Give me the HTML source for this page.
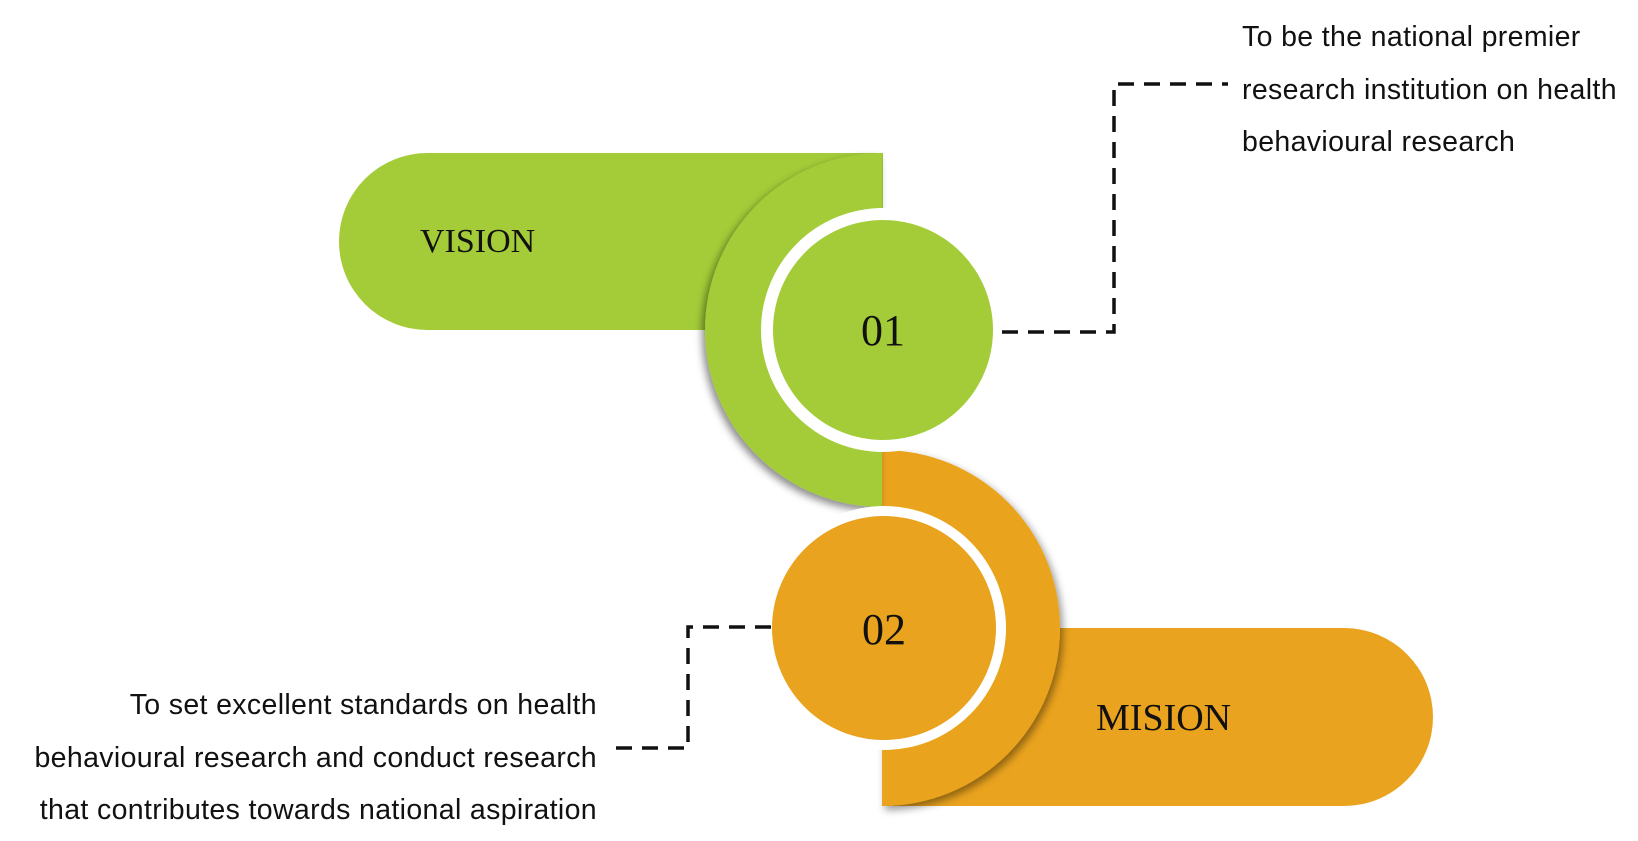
<!DOCTYPE html>
<html><head><meta charset="utf-8"><style>
html,body{margin:0;padding:0;background:#fff;}
svg{display:block;}
</style></head><body>
<svg width="1638" height="841" viewBox="0 0 1638 841" xmlns="http://www.w3.org/2000/svg">
<defs>
<filter id="sg" x="-30%" y="-30%" width="160%" height="160%"><feDropShadow dx="-3" dy="4" stdDeviation="4" flood-color="#000" flood-opacity="0.45"/></filter>
<filter id="so" x="-30%" y="-30%" width="160%" height="160%"><feDropShadow dx="3" dy="4" stdDeviation="4" flood-color="#000" flood-opacity="0.4"/></filter>
</defs>
<path d="M882 628 H1344 A89 89 0 0 1 1344 806 H882 Z" fill="#EAA31E"/>
<path d="M882 450 A178 178 0 0 1 882 806 Z" fill="#EAA31E" filter="url(#so)"/>
<path d="M427.5 153 H883 V330 H427.5 A88.5 88.5 0 0 1 427.5 153 Z" fill="#A3CC38"/>
<path d="M882 153 A177 177 0 0 0 882 507 Z" fill="#A3CC38" filter="url(#sg)"/>
<circle cx="883" cy="330" r="122" fill="#fff"/>
<circle cx="883" cy="330" r="110" fill="#A3CC38"/>
<circle cx="884" cy="628" r="122" fill="#fff"/>
<circle cx="884" cy="628" r="112" fill="#EAA31E"/>
<g font-family="Liberation Serif, serif" fill="#111">
<text x="420" y="252" font-size="34">VISION</text>
<text x="1096" y="730" font-size="38">MISION</text>
<text x="883" y="345" font-size="44" text-anchor="middle">01</text>
<text x="884" y="644" font-size="44" text-anchor="middle">02</text>
</g>
<g fill="none" stroke="#111" stroke-width="3.5" stroke-dasharray="16 10">
<path d="M1002 332 H1114 V84 H1228"/>
<path d="M771 627 H688 V748 H610"/>
</g>
<g font-family="Liberation Sans, sans-serif" font-size="28.5" fill="#111" letter-spacing="0.35">
<text x="1242" y="46">To be the national premier</text>
<text x="1242" y="99">research institution on health</text>
<text x="1242" y="151">behavioural research</text>
<text x="597" y="714" text-anchor="end">To set excellent standards on health</text>
<text x="597" y="767" text-anchor="end">behavioural research and conduct research</text>
<text x="597" y="819" text-anchor="end">that contributes towards national aspiration</text>
</g>
</svg>
</body></html>
